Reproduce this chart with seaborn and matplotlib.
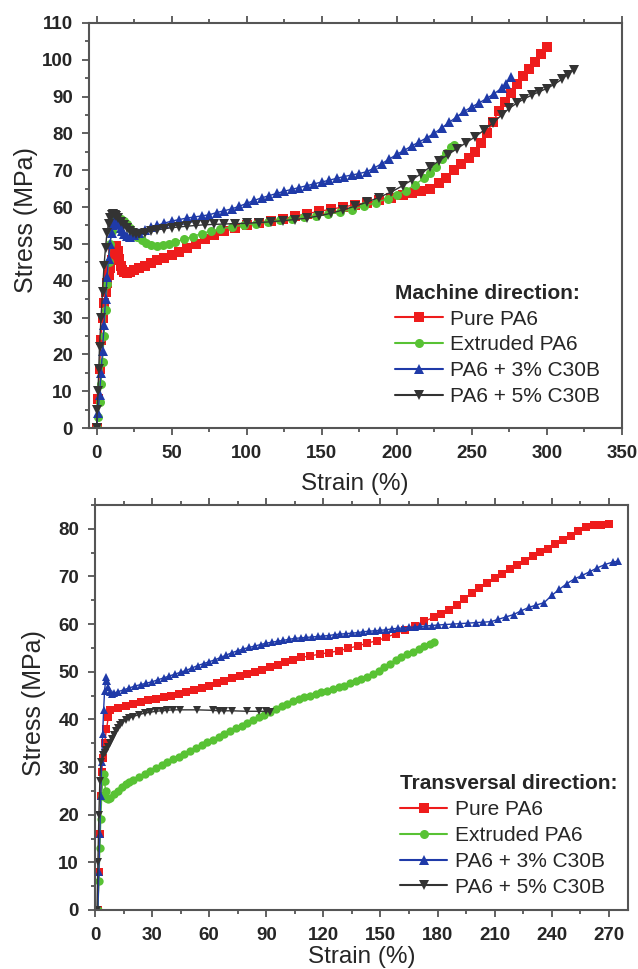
import numpy as np
import pandas as pd
import matplotlib
matplotlib.use("Agg")
import matplotlib.pyplot as plt
from matplotlib.ticker import MultipleLocator
import seaborn as sns

sns.set_theme(style="white")
plt.rcParams['font.family'] = ['Liberation Sans', 'DejaVu Sans']

labels = ["Pure PA6", "Extruded PA6", "PA6 + 3% C30B", "PA6 + 5% C30B"]
colors = ["#ee1c1c", "#58c234", "#1f3aa8", "#333333"]
marks = ["s", "o", "^", "v"]

# ---------------- Machine direction (top) ----------------
md_pure_x = [0, 1, 2, 3, 4, 5, 6, 7, 8, 9, 10, 11, 12, 13, 14, 15, 16, 17, 18, 20, 22, 25, 28, 32, 36, 40,
             45, 50, 55, 60, 66, 72, 78, 85, 92, 100, 108, 116, 124, 132, 140, 148, 156, 164, 172, 180,
             188, 196, 204, 210, 216, 222, 228, 233, 238, 243, 248, 252, 256, 260, 264, 268, 272, 276,
             280, 284, 288, 292, 296, 300]
md_pure_y = [0, 8, 16, 24, 30, 34, 37, 39.5, 41.5, 43.5, 45.5, 47.3, 48.7, 49.3, 48, 46, 44, 42.8, 42.3, 42.2,
             42.5, 43, 43.5, 44, 44.8, 45.5, 46.3, 47, 47.8, 48.8, 50, 51.3, 52.5, 53.5, 54.3, 55, 55.6,
             56.2, 56.8, 57.5, 58.2, 58.8, 59.4, 60, 60.6, 61.2, 61.8, 62.5, 63.3, 63.8, 64.3, 65, 66.5,
             68, 70, 71.8, 73.3, 75, 77.5, 80, 83, 86, 88.5, 91, 93.3, 95.5, 97.5, 99.5, 101.5, 103.4]

md_extr_x = [0, 1, 2, 3, 4, 5, 6, 7, 8, 9, 10, 11, 12, 13, 14, 16, 18, 20, 22, 24, 27, 30, 33, 36, 40, 44,
             48, 52, 58, 64, 70, 76, 82, 90, 98, 106, 114, 122, 130, 138, 146, 154, 162, 170, 178, 186,
             194, 200, 206, 212, 218, 222, 226, 230, 233, 236, 238]
md_extr_y = [0, 3, 7, 12, 18, 25, 32, 39, 45, 50, 53.5, 55.5, 56.8, 57.3, 57.3, 56.8, 56.2, 55.3, 54.3, 53.3,
             52, 51, 50.2, 49.6, 49.3, 49.6, 50, 50.5, 51.2, 52, 52.8, 53.5, 54, 54.6, 55.1, 55.5, 56,
             56.4, 56.8, 57.2, 57.6, 58, 58.6, 59.3, 60.2, 61.2, 62.3, 63.3, 64.5, 66, 67.8, 69.3, 71,
             73, 74.8, 76.3, 76.8]

md_c3_x = [0, 1, 2, 3, 4, 5, 6, 7, 8, 9, 10, 11, 12, 13, 14, 15, 16, 17, 18, 20, 22, 25, 28, 32, 36, 40,
           45, 50, 55, 60, 65, 70, 75, 80, 85, 90, 95, 100, 105, 110, 115, 120, 125, 130, 135, 140, 145,
           150, 155, 160, 165, 170, 175, 180, 185, 190, 195, 200, 205, 210, 215, 220, 225, 230, 235,
           240, 245, 250, 255, 260, 265, 270, 273, 276]
md_c3_y = [0, 4, 9, 15, 21, 28, 35, 41, 46, 50, 53, 55.2, 56.5, 57, 56.3, 55.3, 54.3, 53.4, 52.7, 52.1,
           51.9, 52.3, 53, 53.8, 54.5, 55, 55.6, 56.2, 56.6, 57, 57.3, 57.6, 57.9, 58.5, 59, 59.5, 60.2,
           61, 61.8, 62.5, 63.1, 63.7, 64.3, 64.8, 65.3, 65.8, 66.3, 66.8, 67.3, 67.8, 68.3, 68.7, 69.1,
           69.6, 70.6, 71.8, 73, 74.3, 75.4, 76.6, 77.7, 78.8, 80, 81.5, 83, 84.5, 86, 87.2, 88.3, 89.5,
           90.8, 92.3, 93.5, 95.3]

md_c5_x = [0, 0.5, 1, 1.5, 2, 3, 4, 5, 6, 7, 8, 9, 10, 11, 12, 13, 14, 16, 18, 20, 22, 24, 26, 28, 32, 36,
           40, 45, 50, 55, 60, 66, 72, 78, 85, 92, 100, 108, 116, 124, 132, 140, 148, 156, 164, 172,
           180, 188, 196, 204, 210, 216, 222, 228, 234, 240, 246, 252, 258, 264, 270, 275, 280, 285,
           290, 295, 300, 305, 310, 314, 318]
md_c5_y = [0, 5, 10, 16, 22, 30, 37, 44, 49, 53, 55.5, 57, 57.8, 58, 57.9, 57.5, 57, 56, 55, 54.2, 53.5,
           53, 52.7, 52.6, 53, 53.5, 53.8, 54.1, 54.4, 54.6, 54.8, 55, 55.2, 55.3, 55.4, 55.5, 55.6, 55.8,
           56, 56.3, 56.6, 57, 57.6, 58.3, 59.2, 60.2, 61.3, 62.6, 64, 65.8, 67.3, 69, 70.8, 72.5, 74.2,
           75.8, 77.4, 79, 80.8, 82.8, 85, 86.8, 88.2, 89.4, 90.4, 91.3, 92.2, 93.3, 94.7, 96, 97.3]

# ---------------- Transversal direction (bottom) ----------------
td_pure_x = [1.5, 2, 2.5, 3, 3.5, 4, 5, 6, 7, 8, 12, 16, 20, 24, 28, 32, 36, 40, 44, 48, 52, 56, 60, 64,
             68, 72, 76, 80, 84, 88, 92, 96, 100, 104, 108, 113, 118, 123, 128, 133, 138, 143, 148, 153,
             158, 163, 168, 173, 178, 182, 186, 190, 194, 198, 202, 206, 210, 214, 218, 222, 226, 230,
             234, 238, 242, 246, 250, 254, 258, 262, 266, 270]
td_pure_y = [0, 8, 16, 24, 29, 32, 35, 38, 40.5, 42, 42.3, 42.8, 43.2, 43.6, 44, 44.3, 44.6, 45, 45.4,
             45.8, 46.2, 46.6, 47.1, 47.6, 48.1, 48.7, 49.2, 49.6, 50, 50.4, 50.9, 51.5, 52, 52.5, 53,
             53.3, 53.7, 54, 54.4, 54.9, 55.4, 56, 56.5, 57.2, 58, 58.8, 59.7, 60.6, 61.4, 62.2, 63, 64.1,
             65.3, 66.5, 67.6, 68.6, 69.6, 70.6, 71.6, 72.5, 73.3, 74.3, 75.1, 75.8, 76.7, 77.6, 78.5,
             79.5, 80.3, 80.8, 80.8, 81]

td_extr_x = [1.5, 2, 2.5, 3, 3.5, 4, 4.5, 5, 5.5, 6, 7, 8, 10, 12, 14, 16, 18, 20, 23, 26, 29, 32, 35, 38,
             41, 44, 47, 50, 53, 56, 59, 62, 65, 68, 71, 74, 77, 80, 83, 86, 89, 92, 95, 98, 101, 104,
             107, 110, 113, 116, 119, 122, 125, 128, 131, 134, 137, 140, 143, 146, 149, 152, 155, 158,
             161, 164, 167, 170, 173, 176, 178]
td_extr_y = [0, 6, 13, 19, 24, 27, 28.5, 27, 25, 23.5, 23.2, 23.5, 24.3, 25, 25.8, 26.4, 26.9, 27.3, 28,
             28.6, 29.2, 29.8, 30.4, 31, 31.6, 32.2, 32.8, 33.4, 34, 34.6, 35.2, 35.7, 36.3, 36.9, 37.5,
             38.1, 38.6, 39.2, 39.8, 40.4, 41, 41.6, 42.2, 42.8, 43.3, 43.8, 44.2, 44.6, 45, 45.4, 45.7,
             46, 46.3, 46.7, 47.1, 47.6, 48, 48.4, 48.9, 49.5, 50.2, 50.9, 51.7, 52.5, 53.1, 53.7, 54.2,
             54.7, 55.3, 55.9, 56.2]

td_c3_x = [1.5, 2, 2.5, 3, 3.5, 4, 4.5, 5, 5.5, 6, 6.5, 7, 8, 9, 10, 12, 15, 18, 21, 24, 27, 30, 33, 36,
           39, 42, 45, 48, 51, 54, 57, 60, 63, 66, 69, 72, 75, 78, 81, 84, 87, 90, 93, 96, 99, 102, 105,
           108, 111, 114, 117, 120, 123, 126, 129, 132, 135, 138, 141, 144, 147, 150, 153, 156, 159, 162,
           165, 168, 171, 174, 177, 180, 184, 188, 192, 196, 200, 204, 208, 212, 216, 220, 224, 228,
           232, 236, 240, 244, 248, 252, 256, 260, 264, 268, 272, 275]
td_c3_y = [0, 8, 16, 24, 31, 37, 42, 46, 48, 48.8, 48, 46.8, 45.8, 45.4, 45.5, 45.8, 46.2, 46.6, 47, 47.3,
           47.6, 47.9, 48.3, 48.7, 49.1, 49.5, 49.9, 50.3, 50.8, 51.3, 51.7, 52.1, 52.5, 53, 53.5, 54,
           54.4, 54.8, 55.1, 55.4, 55.7, 56, 56.2, 56.4, 56.6, 56.8, 57, 57.1, 57.2, 57.3, 57.4, 57.5,
           57.6, 57.8, 57.9, 58, 58.1, 58.2, 58.4, 58.5, 58.6, 58.7, 58.8, 59, 59.1, 59.2, 59.3, 59.4,
           59.5, 59.6, 59.7, 59.8, 59.9, 60, 60.1, 60.2, 60.3, 60.4, 60.5, 61, 61.5, 62, 62.8, 63.5, 64,
           64.5, 66, 67.3, 68.5, 69.5, 70.2, 71, 71.8, 72.5, 73, 73.2]

td_c5_x = [1, 1.5, 2, 2.5, 3, 4, 5, 6, 7, 8, 9, 10, 11, 12, 13, 14, 16, 18, 20, 23, 26, 29, 32, 35, 38, 41,
           44.6, 53.6, 62, 65, 68, 72, 80, 86, 90, 92]
td_c5_y = [0, 10, 20, 27, 31, 32.5, 33, 33.5, 34.2, 35, 35.8, 36.7, 37.5, 38.2, 38.8, 39.3, 39.9, 40.3,
           40.6, 41, 41.3, 41.5, 41.7, 41.8, 41.9, 42, 42, 42, 41.9, 41.8, 41.8, 41.8, 41.7, 41.7, 41.7,
           41.6]

md_series = [(md_pure_x, md_pure_y), (md_extr_x, md_extr_y), (md_c3_x, md_c3_y), (md_c5_x, md_c5_y)]
td_series = [(td_pure_x, td_pure_y), (td_extr_x, td_extr_y), (td_c3_x, td_c3_y), (td_c5_x, td_c5_y)]


def build(series):
    frames = []
    for lab, (xs, ys) in zip(labels, series):
        frames.append(pd.DataFrame({"Strain": xs, "Stress": ys, "Sample": lab}))
    return pd.concat(frames, ignore_index=True)


fig = plt.figure(figsize=(6.38, 9.69), dpi=100)
ax1 = fig.add_axes([0.1395, 0.5583, 0.835, 0.418])
ax2 = fig.add_axes([0.149, 0.0609, 0.835, 0.418])

palette = dict(zip(labels, colors))
markers = dict(zip(labels, marks))

setups = [
    (ax1, md_series, "Machine direction:", (0.555, 0.382), (-0.0956, 0.514), (0.499, -0.1114), 6.5),
    (ax2, td_series, "Transversal direction:", (0.552, 0.361), (-0.092, 0.511), (0.501, -0.088), 6.0),
]

for ax, series, title, leg_anchor, ylab_pos, xlab_pos, msize in setups:
    df = build(series)
    sns.lineplot(data=df, x="Strain", y="Stress", hue="Sample", style="Sample",
                 hue_order=labels, style_order=labels, palette=palette,
                 markers=markers, dashes=False, sort=False, estimator=None,
                 markersize=msize, markeredgewidth=0, linewidth=1.0, ax=ax)
    handles, labs = ax.get_legend_handles_labels()
    for h in handles:
        h.set_markersize(6.5)
        h.set_linewidth(1.5)
    ax.legend(handles, labs, title=title, frameon=False,
              loc="upper left", bbox_to_anchor=leg_anchor, borderpad=0,
              fontsize=15, title_fontproperties={"weight": "bold", "size": 15},
              alignment="left", handlelength=2.3, handletextpad=0.35,
              labelspacing=0.33)
    ax.set_xlabel("Strain (%)", fontsize=17.5)
    ax.set_ylabel("Stress (MPa)", fontsize=18)
    ax.yaxis.set_label_coords(*ylab_pos)
    ax.xaxis.set_label_coords(*xlab_pos)
    for sp in ["left", "bottom", "top", "right"]:
        ax.spines[sp].set_color("#555555")
        ax.spines[sp].set_linewidth(1.5)
    ax.tick_params(which="both", direction="out", top=True, right=False, left=True,
                   bottom=True, color="#555555", width=1.3)
    ax.tick_params(which="major", length=5, labelsize=13.5)
    ax.tick_params(axis="x", which="major", pad=7)
    ax.tick_params(axis="y", which="major", pad=6.5)
    ax.tick_params(which="minor", length=3)

ax1.set_xlim(-5, 350)
ax1.set_ylim(0, 110)
ax1.xaxis.set_major_locator(MultipleLocator(50))
ax1.xaxis.set_minor_locator(MultipleLocator(25))
ax1.yaxis.set_major_locator(MultipleLocator(10))
ax1.yaxis.set_minor_locator(MultipleLocator(5))

ax2.set_xlim(0, 280)
ax2.set_ylim(0, 85)
ax2.xaxis.set_major_locator(MultipleLocator(30))
ax2.xaxis.set_minor_locator(MultipleLocator(15))
ax2.yaxis.set_major_locator(MultipleLocator(10))
ax2.yaxis.set_minor_locator(MultipleLocator(5))

for ax in (ax1, ax2):
    for t in ax.get_xticklabels() + ax.get_yticklabels():
        t.set_fontweight("bold")
        t.set_fontsize(13.5)

fig.savefig("out.png", dpi=100)
